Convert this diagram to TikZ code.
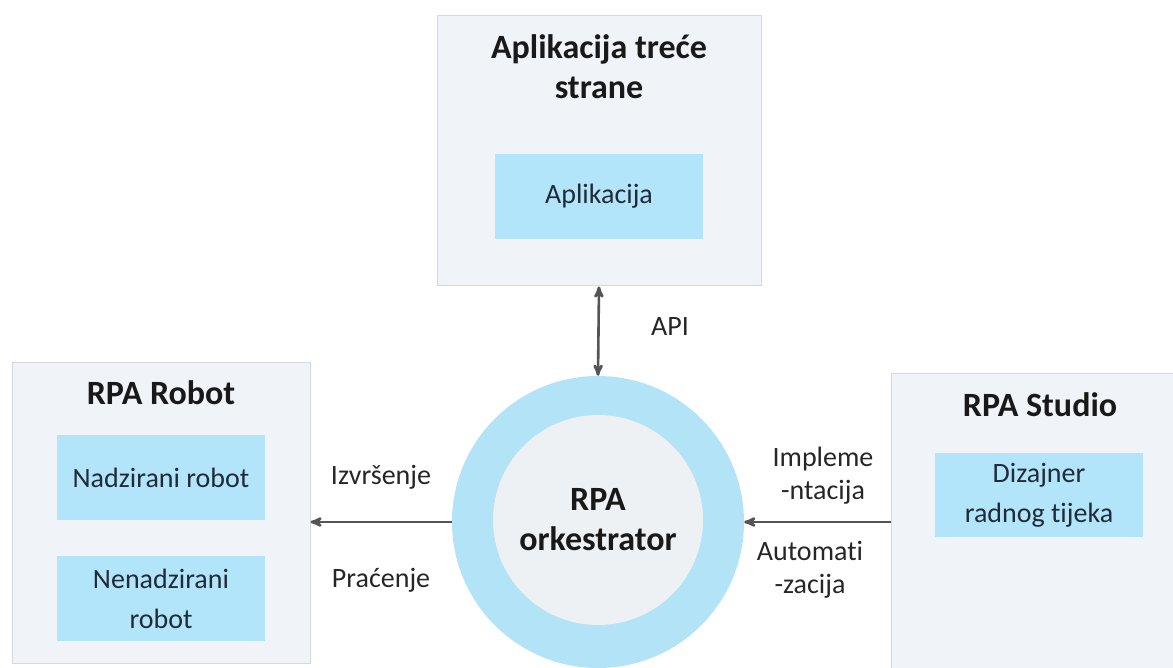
\documentclass[tikz,border=0pt]{standalone}
\usepackage{fontspec}
\setmainfont{Carlito}[Ligatures=NoCommon]
\usetikzlibrary{arrows}
\definecolor{boxgray}{HTML}{F0F3F7}
\definecolor{boxline}{HTML}{D5D8DC}
\definecolor{lightblue}{HTML}{B3E5FA}
\definecolor{ringblue}{HTML}{B3E3F7}
\definecolor{coregray}{HTML}{EDF1F4}
\definecolor{inktext}{HTML}{1F2B38}
\definecolor{linkgray}{HTML}{555555}
\tikzset{
 outerbox/.style={draw=boxline, fill=boxgray, line width=1pt, inner sep=0},
 innerbox/.style={fill=lightblue, minimum width=208pt, minimum height=85pt, inner sep=0,
  align=center, text=inktext, font=\fontsize{28}{40}\selectfont},
 titletext/.style={align=center, inner sep=0, text=black!90, font=\fontsize{34}{40}\selectfont\bfseries},
 labeltext/.style={align=center, inner sep=0, text=black!85, font=\fontsize{28}{33}\selectfont},
 link/.style={linkgray, line width=2.6pt, >=stealth'}
}
\begin{document}
\begin{tikzpicture}[x=1pt, y=-1pt]
\useasboundingbox (0,0) rectangle (1173,668);
% third-party application
\node[outerbox, minimum width=324pt, minimum height=270pt] (third) at (599,151) {};
\node[titletext] (thirdtitle) at (599,67) {Aplikacija treće\\strane};
\node[innerbox] (app) at (599,196.5) {Aplikacija};
% robot
\node[outerbox, minimum width=298pt, minimum height=300pt] (robot) at (161,513) {};
\node[titletext] (robottitle) at (161,393) {RPA Robot};
\node[innerbox] (attended) at (161,477.5) {Nadzirani robot};
\node[innerbox] (unattended) at (161,598.5) {Nenadzirani\\robot};
% studio
\node[outerbox, minimum width=299pt, minimum height=317pt] (studio) at (1040.5,531.5) {};
\node[titletext] (studiotitle) at (1040,405) {RPA Studio};
\node[innerbox, minimum height=84pt] (designer) at (1039,495) {Dizajner\\radnog tijeka};
% orchestrator
\node[circle, fill=ringblue, minimum size=292pt, inner sep=0] (orch) at (598,522) {};
\node[circle, fill=coregray, minimum size=210pt, inner sep=0, titletext] (core) at (598,520) {RPA\\orkestrator};
% links
\draw[link, <->] (third.south) -- (orch.north);
\draw[link, ->] (orch.west) -- (robot.east |- orch.west);
\draw[link, ->] (studio.west |- orch.east) -- (orch.east);
\node[labeltext] (api) at (670,327) {API};
\node[labeltext] (exec) at (381,477) {Izvršenje};
\node[labeltext] (monitor) at (381,580) {Praćenje};
\node[labeltext] (deploy) at (823,476) {Impleme\\-ntacija};
\node[labeltext] (automate) at (810,570) {Automati\\-zacija};
\end{tikzpicture}
\end{document}
